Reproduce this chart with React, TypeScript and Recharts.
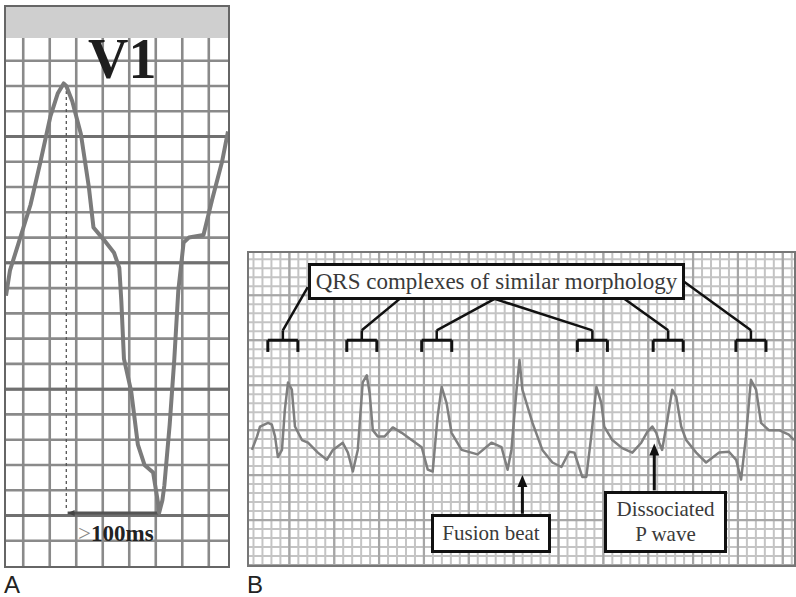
import React from 'react';
import { LineChart, Line, XAxis, YAxis, CartesianGrid, ReferenceLine, ReferenceDot } from 'recharts';

// Panel A: lead V1, one wide complex (time in ms, amplitude in mV)
const v1Ms = [-26, -20, -8, 11, 26, 41, 52, 61, 65, 74, 87, 99, 106, 122, 137, 145, 148, 152, 163, 173, 183, 196, 204, 205, 210, 213, 221, 228, 234, 242, 250, 272, 285, 300, 309];
const v1Mv = [-0.13, -0.03, 0.07, 0.23, 0.4, 0.58, 0.67, 0.71, 0.7, 0.64, 0.51, 0.3, 0.14, 0.09, 0.04, -0.02, -0.15, -0.38, -0.51, -0.72, -0.8, -0.83, -0.96, -0.99, -0.94, -0.88, -0.64, -0.38, -0.11, 0.08, 0.1, 0.11, 0.25, 0.4, 0.52];

// Panel B: rhythm strip
const stripMs = [33, 56, 69, 105, 122, 136, 149, 167, 180, 194, 211, 225, 256, 283, 327, 367, 394, 438, 461, 483, 505, 527, 545, 558, 572, 594, 625, 661, 701, 745, 790, 817, 839, 861, 879, 901, 923, 968, 1039, 1101, 1146, 1173, 1190, 1213, 1226, 1239, 1284, 1328, 1373, 1413, 1448, 1471, 1506, 1524, 1546, 1569, 1591, 1604, 1640, 1684, 1729, 1769, 1796, 1818, 1836, 1849, 1862, 1885, 1907, 1925, 1947, 1969, 2014, 2058, 2116, 2160, 2192, 2214, 2236, 2258, 2281, 2303, 2338, 2383, 2427, 2450];
const stripMv = [-0.22, -0.07, 0.04, 0.08, 0.06, -0.07, -0.3, -0.22, 0.23, 0.53, 0.45, 0.04, -0.11, -0.14, -0.25, -0.33, -0.22, -0.14, -0.25, -0.46, -0.22, 0.53, 0.61, 0.41, 0.0, -0.07, -0.07, 0.03, -0.03, -0.11, -0.19, -0.44, -0.46, 0.15, 0.48, 0.3, -0.03, -0.22, -0.27, -0.14, -0.19, -0.44, -0.22, 0.45, 0.78, 0.45, 0.08, -0.22, -0.36, -0.41, -0.24, -0.25, -0.52, -0.52, -0.07, 0.48, 0.3, 0.04, -0.11, -0.2, -0.25, -0.14, -0.02, 0.04, -0.03, -0.14, -0.22, 0.11, 0.45, 0.37, 0.04, -0.11, -0.25, -0.36, -0.25, -0.24, -0.33, -0.55, -0.07, 0.56, 0.45, 0.08, 0.0, 0.0, -0.05, -0.11];

// bracketed QRS complexes and where their leader lines start on the label box
const qrsCenters = [171, 523, 857, 1551, 1889, 2258];
const leaderFrom = [[282, 1.59], [692, 1.46], [1115, 1.46], [1115, 1.46], [1693, 1.46], [1960, 1.65]];

const v1Data = v1Ms.map((t, i) => ({ t, v: v1Mv[i] }));
const stripData = stripMs.map((t, i) => ({ t, v: stripMv[i] }));

const range = (from: number, to: number, step: number) => {
  const out: number[] = [];
  for (let k = Math.ceil(from / step - 1e-9); k * step <= to + 1e-9; k++) out.push(Math.round(k * step * 1000) / 1000);
  return out;
};

// grid line positions: map ECG-paper values to pixels in the plot box
const xGen = (dom: number[], values: number[]) => (p: any) => {
  const o = p.offset || { left: 0, width: p.width };
  return values.map(v => o.left + ((v - dom[0]) / (dom[1] - dom[0])) * o.width);
};
const yGen = (dom: number[], values: number[]) => (p: any) => {
  const o = p.offset || { top: 0, height: p.height };
  return values.map(v => o.top + ((dom[1] - v) / (dom[1] - dom[0])) * o.height);
};

const SERIF = '"Liberation Serif", "Times New Roman", serif';
const SANS = '"Liberation Sans", Arial, sans-serif';

const upHead = (p: any) => (
  <polygon points={`${p.cx},${p.cy} ${p.cx - 5},${p.cy + 12} ${p.cx + 5},${p.cy + 12}`} fill="#111" />
);
const leftHead = (p: any) => (
  <polygon points={`${p.cx},${p.cy} ${p.cx + 7},${p.cy - 3} ${p.cx + 7},${p.cy + 3}`} fill="#444" />
);

function PanelA() {
  const xDom = [-26, 309];
  const yDom = [-1.2, 0.89];
  return (
    <div style={{ position: 'absolute', left: 4, top: 5, border: '2px solid #666', width: 222, height: 559, background: '#fff' }}>
      <div style={{ height: 31, background: '#cfcfcf' }} />
      <LineChart width={222} height={528} data={v1Data} margin={{ top: 0, right: 0, bottom: 0, left: 0 }}>
        <XAxis type="number" dataKey="t" domain={xDom} allowDataOverflow hide />
        <YAxis type="number" domain={yDom} allowDataOverflow hide />
        <CartesianGrid
          stroke="#8a8a8a"
          strokeWidth={2.6}
          verticalCoordinatesGenerator={xGen(xDom, range(0, 300, 40))}
          horizontalCoordinatesGenerator={yGen(yDom, range(-1.1, 0.8, 0.1))}
        />
        <CartesianGrid
          stroke="#707070"
          strokeWidth={3}
          vertical={false}
          horizontalCoordinatesGenerator={yGen(yDom, [-1, -0.5, 0, 0.5])}
        />
        <ReferenceLine segment={[{ x: 65, y: 0.68 }, { x: 65, y: -0.98 }]} stroke="#555" strokeWidth={1.3} strokeDasharray="3 3" />
        <ReferenceLine segment={[{ x: 67, y: -0.99 }, { x: 205, y: -0.99 }]} stroke="#555" strokeWidth={3} />
        <ReferenceDot x={67} y={-0.99} shape={leftHead} />
        <Line type="linear" dataKey="v" stroke="#7b7b7b" strokeWidth={4} dot={false} isAnimationActive={false} strokeLinejoin="round" />
      </LineChart>
    </div>
  );
}

function PanelB() {
  const xDom = [20, 2450];
  const yDom = [-1.5, 1.97];
  const ink = '#111';
  return (
    <div style={{ position: 'absolute', left: 247, top: 251, border: '2px solid #777', width: 545, height: 312, background: '#fff' }}>
      <LineChart width={545} height={312} data={stripData} margin={{ top: 0, right: 0, bottom: 0, left: 0 }}>
        <XAxis type="number" dataKey="t" domain={xDom} allowDataOverflow hide />
        <YAxis type="number" domain={yDom} allowDataOverflow hide />
        <CartesianGrid
          stroke="#c4c4c4"
          strokeWidth={2}
          verticalCoordinatesGenerator={xGen(xDom, range(40, 2440, 40))}
          horizontalCoordinatesGenerator={yGen(yDom, range(-1.4, 1.9, 0.1))}
        />
        <CartesianGrid
          stroke="#a6a6a6"
          strokeWidth={2.2}
          verticalCoordinatesGenerator={xGen(xDom, range(200, 2400, 200))}
          horizontalCoordinatesGenerator={yGen(yDom, range(-1.5, 1.5, 0.5))}
        />
        {qrsCenters.map((c, i) => (
          <ReferenceLine key={`lead-${i}`} segment={[{ x: leaderFrom[i][0], y: leaderFrom[i][1] }, { x: c, y: 1.11 }]} stroke={ink} strokeWidth={2.5} />
        ))}
        {qrsCenters.map((c, i) => (
          <ReferenceLine key={`stem-${i}`} segment={[{ x: c, y: 1.11 }, { x: c, y: 1.0 }]} stroke={ink} strokeWidth={2.5} />
        ))}
        {qrsCenters.map((c, i) => (
          <ReferenceLine key={`bar-${i}`} segment={[{ x: c - 67, y: 1.0 }, { x: c + 67, y: 1.0 }]} stroke={ink} strokeWidth={3} />
        ))}
        {qrsCenters.map((c, i) => (
          <ReferenceLine key={`l-${i}`} segment={[{ x: c - 67, y: 1.0 }, { x: c - 67, y: 0.87 }]} stroke={ink} strokeWidth={3} />
        ))}
        {qrsCenters.map((c, i) => (
          <ReferenceLine key={`r-${i}`} segment={[{ x: c + 67, y: 1.0 }, { x: c + 67, y: 0.87 }]} stroke={ink} strokeWidth={3} />
        ))}
        <ReferenceLine segment={[{ x: 1239, y: -0.93 }, { x: 1239, y: -0.58 }]} stroke={ink} strokeWidth={3} />
        <ReferenceDot x={1239} y={-0.5} shape={upHead} />
        <ReferenceLine segment={[{ x: 1827, y: -0.67 }, { x: 1827, y: -0.22 }]} stroke={ink} strokeWidth={3} />
        <ReferenceDot x={1827} y={-0.15} shape={upHead} />
        <Line type="linear" dataKey="v" stroke="#7f7f7f" strokeWidth={2.5} dot={false} isAnimationActive={false} strokeLinejoin="round" />
      </LineChart>
    </div>
  );
}

const boxStyle: React.CSSProperties = {
  position: 'absolute',
  boxSizing: 'border-box',
  border: '3px solid #111',
  background: '#fff',
  fontFamily: SERIF,
  color: '#3a3a3a',
  display: 'flex',
  flexDirection: 'column',
  alignItems: 'center',
  justifyContent: 'center',
  textAlign: 'center',
};

export default function App() {
  return (
    <div style={{ position: 'absolute', left: 0, top: 0, width: 796, height: 597, background: '#fff', overflow: 'hidden' }}>
      <PanelA />
      <PanelB />
      <div style={{ position: 'absolute', left: 88, top: 31, fontFamily: SERIF, fontWeight: 'bold', fontSize: 56, lineHeight: '56px', color: '#1e1e1e' }}>V1</div>
      <div style={{ position: 'absolute', left: 78, top: 522, fontFamily: SERIF, fontWeight: 'bold', fontSize: 23, lineHeight: '23px', color: '#222' }}>
        <span style={{ color: '#888', fontWeight: 'normal' }}>&gt;</span>100ms
      </div>
      <div style={{ ...boxStyle, left: 308, top: 263, width: 377, height: 37, fontSize: 23 }}>QRS complexes of similar morphology</div>
      <div style={{ ...boxStyle, left: 431, top: 514, width: 120, height: 39, fontSize: 21 }}>Fusion beat</div>
      <div style={{ ...boxStyle, left: 604, top: 491, width: 123, height: 62, fontSize: 21, lineHeight: '25px' }}>
        <div>Dissociated</div>
        <div>P wave</div>
      </div>
      <div style={{ position: 'absolute', left: 4, top: 574, fontFamily: SANS, fontSize: 24, lineHeight: '22px', color: '#222' }}>A</div>
      <div style={{ position: 'absolute', left: 247, top: 574, fontFamily: SANS, fontSize: 24, lineHeight: '22px', color: '#222' }}>B</div>
    </div>
  );
}
